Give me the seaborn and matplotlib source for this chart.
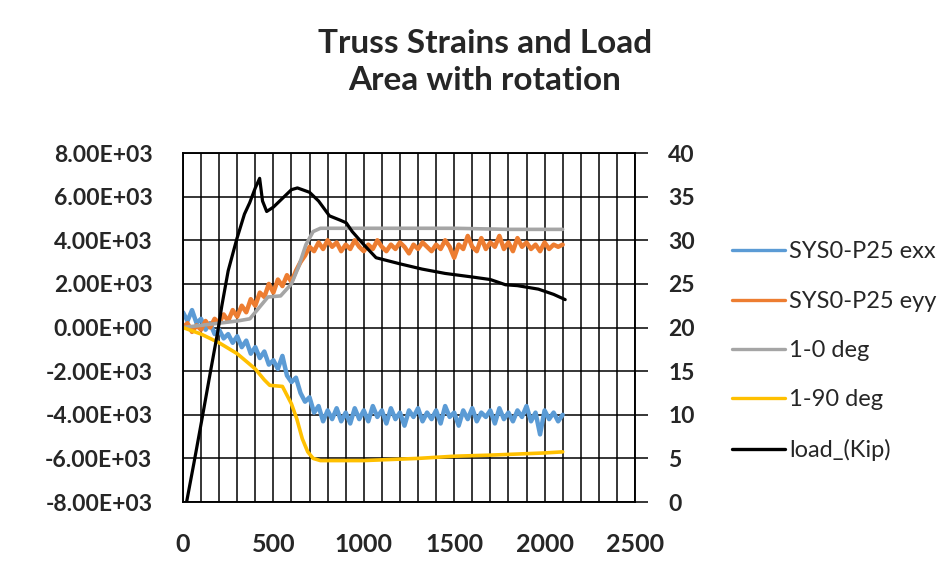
import matplotlib

matplotlib.use("Agg")

import matplotlib.pyplot as plt
import pandas as pd
import seaborn as sns
from matplotlib.lines import Line2D
from matplotlib.ticker import FuncFormatter, MultipleLocator

# sample positions of the two noisy strain gauges (every 25 steps)
gauge_step = list(range(0, 2101, 25))

exx = [
    700, 300, 800, 200, 400, -100, 200, -300, -100, -500,
    -300, -700, -400, -900, -600, -1200, -900, -1400, -1100, -1700,
    -1500, -1900, -1300, -2200, -2500, -2300, -3000, -3400, -3200, -3900,
    -3600, -4300, -3800, -4200, -3700, -4300, -3900, -4400, -3700, -4200,
    -3800, -4300, -3600, -4100, -3800, -4400, -3700, -4200, -3900, -4500,
    -3800, -4100, -3700, -4300, -3900, -4200, -3800, -4400, -3600, -4100,
    -3900, -4500, -3800, -4200, -3700, -4300, -3900, -4100, -3800, -4400,
    -3700, -4200, -3900, -4300, -3800, -4100, -3600, -4300, -3900, -4900,
    -3800, -4200, -3900, -4300, -4000,
]

eyy = [
    0, 200, -200, 100, -100, 300, 0, 400, 200, 600,
    300, 800, 500, 1000, 700, 1300, 1000, 1600, 1400, 2000,
    1600, 2200, 1900, 2400, 2100, 2600, 3000, 3300, 3700, 3500,
    3900, 3600, 4000, 3700, 3900, 3500, 3800, 3600, 4000, 3700,
    3500, 3800, 3600, 4000, 3700, 3500, 3800, 3600, 3900, 3700,
    3400, 3800, 3600, 3900, 3700, 3500, 3800, 3600, 4000, 3700,
    3200, 3800, 3600, 4200, 3700, 3500, 4100, 3600, 3900, 3700,
    4200, 3600, 3900, 3500, 4100, 3700, 3900, 3600, 3800, 3500,
    3900, 3600, 3800, 3700, 3800,
]

deg0_step = [0, 100, 200, 300, 370, 420, 470, 540, 600, 640, 680, 720, 760, 900, 1200, 1500, 1800, 2100]
deg0 = [0, 100, 200, 300, 400, 900, 1400, 1450, 2000, 2800, 3800, 4400, 4550, 4550, 4550, 4550, 4500, 4500]

deg90_step = [0, 100, 200, 300, 400, 450, 480, 550, 600, 630, 660, 690, 720, 760, 1000, 1300, 1500, 1700, 2000, 2100]
deg90 = [0, -300, -700, -1200, -1900, -2400, -2650, -2700, -3500, -4200, -5100, -5700, -6000, -6100, -6100, -6000, -5900, -5850, -5750, -5700]

load_step = [
    20, 60, 105, 150, 193, 215, 250, 297, 340, 369, 400, 424, 440, 463, 500, 550, 600, 633,
    700, 750, 810, 870, 903, 936, 1000, 1068, 1200, 1322, 1450, 1597, 1700, 1784, 1850, 1966, 2050, 2114,
]
load_kip = [
    0, 4.4, 9.5, 14.7, 19.6, 22.5, 26.5, 30.1, 33, 34.3, 36, 37.1, 34.5, 33.3, 33.8, 34.8, 35.8, 36,
    35.5, 34.5, 32.8, 32.3, 32, 31, 29.5, 28, 27.3, 26.7, 26.2, 25.8, 25.5, 24.9, 24.8, 24.4, 23.8, 23.2,
]

labels = ["SYS0-P25 exx", "SYS0-P25 eyy", "1-0 deg", "1-90 deg", "load_(Kip)"]
colors = ["#5B9BD5", "#ED7D31", "#A5A5A5", "#FFC000", "#000000"]

sns.set_style("white")
plt.rcParams["font.family"] = ["Lato", "DejaVu Sans"]

fig = plt.figure(figsize=(9.51, 5.71), dpi=100)
ax = fig.add_axes([0.1924, 0.1208, 0.4753, 0.6112])
ax2 = ax.twinx()

gauges = pd.DataFrame({"step": gauge_step, "exx": exx, "eyy": eyy})
sns.lineplot(data=gauges, x="step", y="exx", ax=ax, color=colors[0], linewidth=3.2)
sns.lineplot(data=gauges, x="step", y="eyy", ax=ax, color=colors[1], linewidth=3.2)
sns.lineplot(x=deg0_step, y=deg0, ax=ax, color=colors[2], linewidth=2.6)
sns.lineplot(x=deg90_step, y=deg90, ax=ax, color=colors[3], linewidth=2.6)
sns.lineplot(x=load_step, y=load_kip, ax=ax2, color=colors[4], linewidth=2.3)

ax.set_xlim(0, 2500)
ax.set_ylim(-8000, 8000)
ax2.set_ylim(0, 40)
ax.xaxis.set_major_locator(MultipleLocator(500))
ax.xaxis.set_minor_locator(MultipleLocator(100))
ax.yaxis.set_major_locator(MultipleLocator(2000))
ax2.yaxis.set_major_locator(MultipleLocator(5))
ax.yaxis.set_major_formatter(FuncFormatter(lambda v, _: f"{v:.2E}"))

ax.set_axisbelow(True)
ax.grid(True, which="both", axis="x", color="black", linewidth=1.1)
ax.grid(True, which="major", axis="y", color="black", linewidth=1.1)
ax.set_xlabel("")
ax.set_ylabel("")
ax2.set_ylabel("")

for spine in list(ax.spines.values()) + list(ax2.spines.values()):
    spine.set_color("black")
    spine.set_linewidth(1.1)

ax.tick_params(axis="x", which="both", length=0, pad=22, labelsize=18)
ax.tick_params(axis="y", length=0, pad=22, labelsize=16.5)
ax2.tick_params(axis="y", length=9, width=1.1, color="black", pad=15, labelsize=16.5)
for lab in ax.get_xticklabels() + ax.get_yticklabels() + ax2.get_yticklabels():
    lab.set_fontweight("bold")

fig.text(0.51, 0.95, "Truss Strains and Load\nArea with rotation", ha="center", va="top",
         fontsize=24, fontweight="bold", linespacing=1.35)

handles = [Line2D([], [], color=c, linewidth=2.4) for c in colors]
fig.legend(handles, labels, loc="center left", bbox_to_anchor=(0.747, 0.385), frameon=False,
           fontsize=17, handlelength=2.25, handletextpad=0.2, labelspacing=1.2)

fig.savefig("out.png", dpi=100)
